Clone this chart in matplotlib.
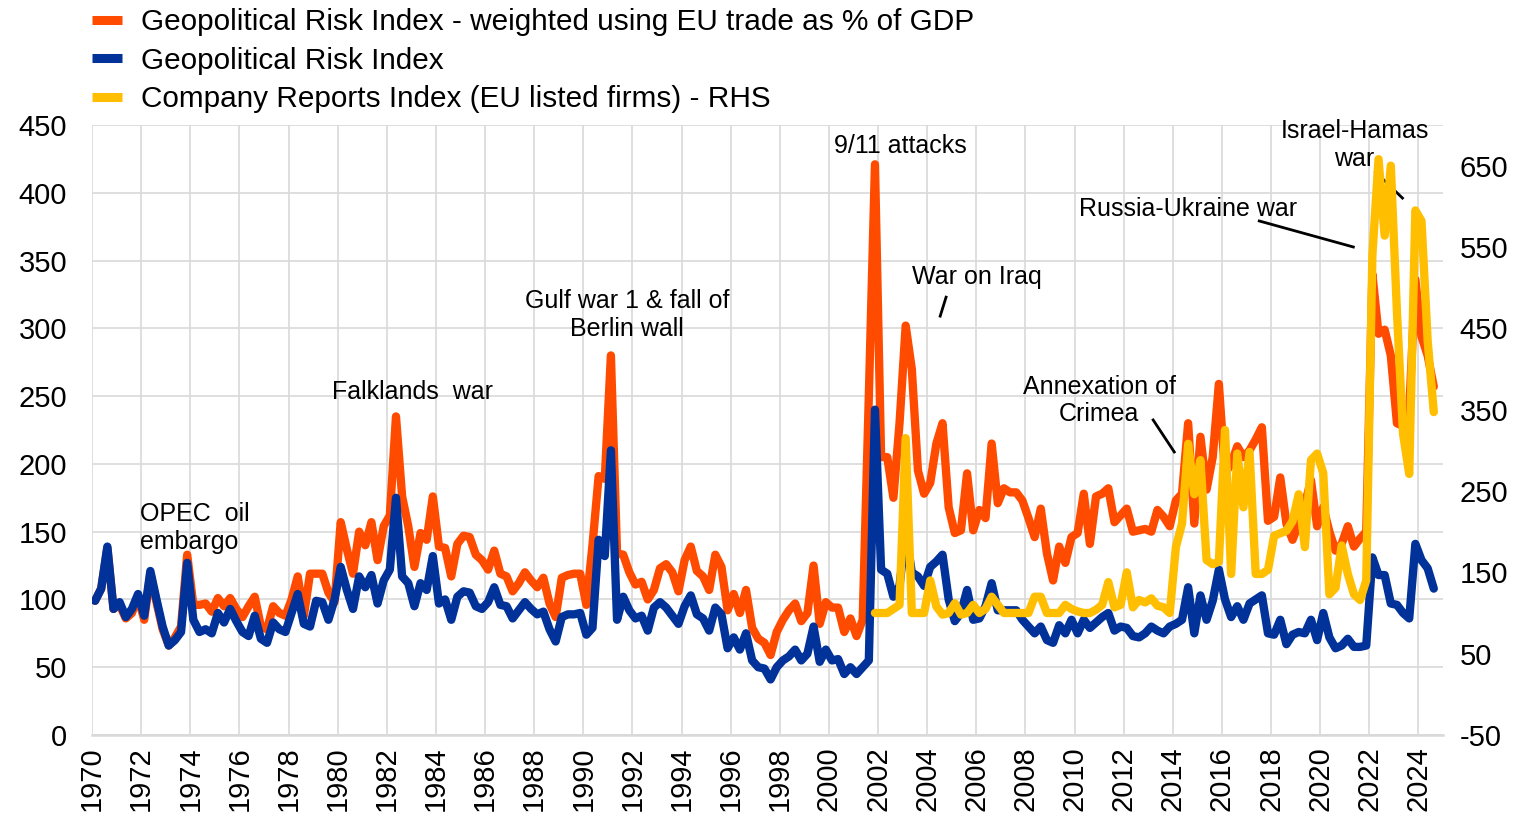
import numpy as np
import matplotlib
matplotlib.use("Agg")
import matplotlib.pyplot as plt
from matplotlib.lines import Line2D

plt.rcParams["font.family"] = ["Liberation Sans", "DejaVu Sans"]
plt.rcParams["axes.unicode_minus"] = False

# quarterly data, 1970Q1 - 2024Q3 (geopolitical risk) / 2001Q4 - 2024Q3 (company reports)
gpr_weighted = [
    99, 108, 138, 93,  96, 86, 90, 102,  85, 119, 98, 78,  66, 72, 80, 133,
    96, 96, 97, 91,  101, 95, 101, 93,  87, 95, 102, 80,  78, 95, 90, 88,
    100, 117, 88, 119,  119, 119, 105, 98,  157, 137, 119, 150,  140, 157, 129, 154,
    162, 235, 176, 154,  124, 149, 144, 176,  139, 138, 117, 141,  147, 146, 133, 129,
    122, 136, 119, 117,  106, 112, 120, 114,  109, 116, 97, 87,  116, 118, 119, 119,
    96, 140, 191, 189,  280, 134, 133, 120,  111, 113, 100, 107,  123, 126, 120, 106,
    129, 139, 121, 117,  107, 133, 124, 92,  104, 90, 107, 79,  71, 68, 59, 76,
    85, 92, 97, 84,  90, 125, 82, 98,  94, 94, 76, 86,  73, 85, 250, 421,
    205, 205, 175, 230,  302, 270, 195, 178,  186, 215, 230, 168,  149, 151, 193, 151,
    166, 160, 215, 171,  182, 179, 179, 173,  160, 146, 167, 134,  114, 139, 127, 146,
    149, 178, 141, 176,  178, 182, 157, 162,  167, 150, 151, 152,  150, 166, 161, 154,
    173, 178, 230, 156,  220, 181, 205, 259,  193, 200, 213, 205,  210, 218, 227, 158,
    161, 190, 156, 144,  156, 170, 188, 154,  168, 150, 136, 141,  154, 139, 145, 150,
    340, 296, 299, 280,  230, 228, 240, 336,  294, 280, 257,
]
gpr = [
    99, 108, 139, 93,  98, 87, 93, 104,  88, 121, 100, 80,  66, 70, 76, 127,
    85, 76, 78, 75,  90, 83, 93, 84,  76, 73, 88, 71,  68, 83, 78, 76,
    90, 104, 82, 80,  99, 98, 85, 100,  124, 107, 93, 117,  109, 118, 97, 114,
    122, 175, 117, 112,  95, 112, 107, 132,  97, 100, 85, 102,  106, 105, 95, 93,
    98, 109, 96, 95,  86, 92, 98, 93,  89, 91, 78, 69,  87, 89, 89, 90,
    74, 79, 144, 132,  210, 85, 102, 92,  86, 88, 77, 94,  98, 94, 88, 82,
    95, 103, 89, 86,  77, 94, 89, 64,  72, 63, 75, 55,  50, 49, 41, 50,
    55, 58, 63, 55,  60, 80, 54, 63,  55, 56, 45, 50,  45, 50, 55, 240,
    122, 119, 102, 110,  150, 120, 117, 110,  124, 128, 133, 100,  84, 90, 107, 85,
    86, 95, 112, 92,  92, 92, 92, 85,  80, 75, 80, 70,  68, 81, 75, 85,
    75, 85, 79, 83,  87, 90, 77, 80,  79, 73, 72, 75,  80, 77, 75, 80,
    82, 85, 109, 75,  103, 85, 99, 122,  100, 87, 95, 85,  97, 100, 103, 75,
    74, 85, 67, 74,  76, 75, 85, 70,  90, 72, 64, 66,  71, 65, 65, 66,
    131, 118, 118, 97,  96, 90, 86, 141,  129, 123, 108,
]
company_reports = [
    100,
    100, 100, 105, 110,  315, 100, 100, 100,  140, 108, 98, 100,  112, 98, 100, 110,
    100, 105, 120, 110,  100, 100, 100, 100,  100, 120, 120, 100,  100, 100, 110, 105,
    102, 100, 100, 104,  110, 138, 107, 110,  150, 107, 116, 113,  118, 109, 107, 100,
    181, 210, 308, 246,  288, 165, 160, 163,  325, 148, 296, 230,  298, 148, 148, 153,
    195, 198, 201, 213,  246, 181, 288, 296,  272, 123, 131, 183,  148, 123, 116, 140,
    540, 658, 564, 650,  470, 320, 271, 595,  582, 435, 347,
]

labels = [
    "Geopolitical Risk Index - weighted using EU trade as % of GDP",
    "Geopolitical Risk Index",
    "Company Reports Index (EU listed firms) - RHS",
]
ORANGE, BLUE, YELLOW = "#FF4B00", "#003299", "#FFBF00"

n = len(gpr)
t = 1970 + (np.arange(n) + 0.5) / 4
t_cr = t[n - len(company_reports):]

fig = plt.figure(figsize=(15.14, 8.19), dpi=100)
ax = fig.add_axes([92 / 1514, 84 / 819, 1351 / 1514, 610 / 819])
ax2 = ax.twinx()

lw = 6
ax.plot(t, gpr_weighted, color=ORANGE, lw=lw, solid_capstyle="round", zorder=3)
ax.plot(t, gpr, color=BLUE, lw=lw, solid_capstyle="round", zorder=4)
ax2.plot(t_cr, company_reports, color=YELLOW, lw=lw, solid_capstyle="round")

ax.set_xlim(1970, 2025)
ax.set_ylim(0, 450)
ax2.set_ylim(-50, 700)
ax.set_xticks(range(1970, 2025, 2))
ax.set_xticklabels([str(y) for y in range(1970, 2025, 2)], rotation=90)
ax.set_yticks(range(0, 451, 50))
ax2.set_yticks(range(-50, 651, 100))

ax.grid(True, color="#d9d9d9", lw=1.2)
ax.set_axisbelow(True)
for a in (ax, ax2):
    for s in ("top", "right", "left"):
        a.spines[s].set_visible(False)
ax2.spines["bottom"].set_visible(False)
ax.spines["bottom"].set_color("#d9d9d9")
ax.spines["bottom"].set_linewidth(1.8)
ax.tick_params(axis="both", length=0, labelsize=21)
ax.tick_params(axis="y", pad=18)
ax.tick_params(axis="x", pad=8)
ax2.tick_params(axis="y", length=0, labelsize=21, pad=12)

# event annotations
fs = 18
ax.text(1971.95, 153, "OPEC  oil\nembargo", fontsize=fs, ha="left", va="center")
ax.text(1983.03, 253, "Falklands  war", fontsize=fs, ha="center", va="center")
ax.text(1991.78, 310, "Gulf war 1 & fall of\nBerlin wall", fontsize=fs,
        ha="center", va="center", multialignment="center")
ax.text(2002.9, 434.5, "9/11 attacks", fontsize=fs, ha="center", va="center")
ax.text(2006.03, 338, "War on Iraq", fontsize=fs, ha="center", va="center")
ax.text(2011.0, 246.8, "Annexation of\nCrimea", fontsize=fs, ha="center",
        va="center", multialignment="center")
ax.text(2014.63, 388, "Russia-Ukraine war", fontsize=fs, ha="center", va="center")
ax.text(2021.4, 435, "Israel-Hamas\nwar", fontsize=fs, ha="center", va="center",
        multialignment="center")

leaders = [
    ((2004.53, 2004.77), (309, 323)),
    ((2013.2, 2014.06), (232.4, 208.8)),
    ((2017.52, 2021.35), (379.2, 360)),
    ((2022.25, 2023.35), (415.3, 396.1)),
]
for xs, ys in leaders:
    ax.plot(xs, ys, color="black", lw=2, zorder=2)

handles = [Line2D([], [], color=c, lw=6.5, solid_capstyle="butt")
           for c in (ORANGE, BLUE, YELLOW)]
fig.legend(handles, labels, loc="upper left", bbox_to_anchor=(92 / 1514, 0.99),
           frameon=False, fontsize=21.4, handlelength=1.0, handletextpad=0.66,
           labelspacing=0.35, borderpad=0, borderaxespad=0)

fig.savefig("out.png", dpi=100)
